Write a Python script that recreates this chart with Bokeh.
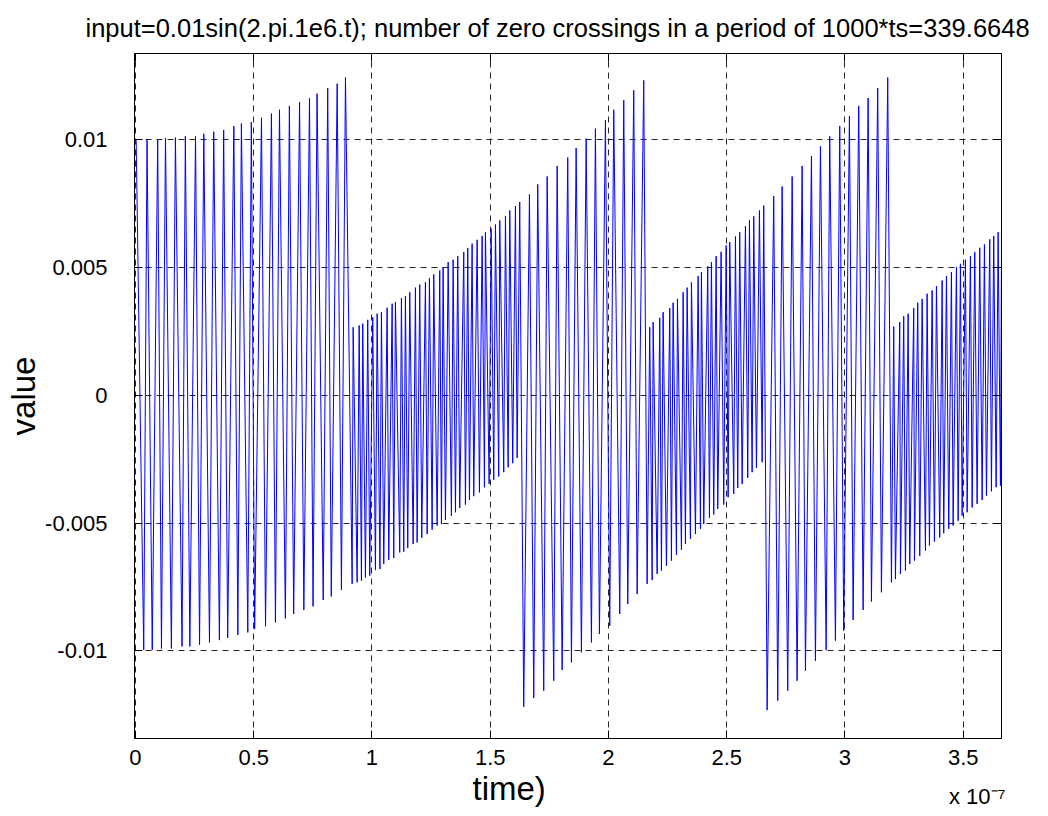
import numpy as np
from bokeh.plotting import figure
from bokeh.models import (Range1d, LinearAxis, FixedTicker, CustomJSTickFormatter,
                          Title, ColumnDataSource)
from bokeh.embed import file_html
from bokeh.resources import INLINE

# ---- data: peak samples (time in units of 1e-7 s) ----
t_upper = [
    # sparse stretch 1
    0.003, 0.049, 0.094, 0.127, 0.169, 0.211, 0.254, 0.289, 0.331, 0.373, 0.416, 0.448,
    0.490, 0.533, 0.575, 0.609, 0.651, 0.694, 0.736, 0.768, 0.813, 0.853, 0.888,
    # dense stretch 1
    0.9205, 0.9460, 0.9611, 0.9822, 1.0034, 1.0220, 1.0402, 1.0643, 1.0854, 1.0994, 1.1247,
    1.1416, 1.1598, 1.1839, 1.2021, 1.2262, 1.2431, 1.2613, 1.2867, 1.3010, 1.3222, 1.3433,
    1.3628, 1.3882, 1.4051, 1.4236, 1.4448, 1.4659, 1.4799, 1.5040, 1.5222, 1.5404, 1.5645,
    1.5827, 1.6068, 1.6249,
    # sparse stretch 2
    1.6660, 1.7010, 1.7408, 1.7831, 1.8279, 1.8634, 1.9057, 1.9450, 1.9873, 2.0224, 2.0647,
    2.1070, 2.1492,
    # dense stretch 2
    2.1746, 2.1890, 2.2169, 2.2312, 2.2592, 2.2735, 2.2917, 2.3158, 2.3327, 2.3509, 2.3792,
    2.3932, 2.4199, 2.4355, 2.4554, 2.4765, 2.4977, 2.5129, 2.5370, 2.5551, 2.5793, 2.5962,
    2.6144, 2.6385, 2.6566,
    # sparse stretch 3
    2.6989, 2.7344, 2.7767, 2.8190, 2.8584, 2.8964, 2.9357, 2.9780, 3.0190, 3.0583, 3.0981,
    3.1386, 3.1809,
    # dense stretch 3
    3.2063, 3.2317, 3.2486, 3.2672, 3.2909, 3.3078, 3.3264, 3.3475, 3.3687, 3.3869, 3.4110,
    3.4292, 3.4503, 3.4715, 3.4884, 3.5095, 3.5307, 3.5489, 3.5700, 3.5898, 3.6123, 3.6292,
    3.6477, 3.6620,
]
v_upper = [
    0.01000, 0.01000, 0.01000, 0.01006, 0.01008, 0.01013, 0.01013, 0.01023, 0.01031, 0.01038,
    0.01053, 0.01063, 0.01069, 0.01086, 0.01102, 0.01117, 0.01132, 0.01147, 0.01162, 0.01180,
    0.01202, 0.01219, 0.01243,
    0.00266, 0.00273, 0.00280, 0.00295, 0.00305, 0.00319, 0.00325, 0.00342, 0.00358, 0.00364,
    0.00380, 0.00388, 0.00403, 0.00421, 0.00433, 0.00442, 0.00458, 0.00473, 0.00488, 0.00501,
    0.00521, 0.00530, 0.00544, 0.00560, 0.00576, 0.00593, 0.00608, 0.00623, 0.00638, 0.00652,
    0.00668, 0.00684, 0.00700, 0.00723, 0.00740, 0.00756,
    0.00786, 0.00825, 0.00856, 0.00897, 0.00930, 0.00967, 0.01004, 0.01043, 0.01076, 0.01117,
    0.01154, 0.01193, 0.01232,
    0.00266, 0.00286, 0.00303, 0.00325, 0.00341, 0.00362, 0.00377, 0.00403, 0.00421, 0.00442,
    0.00466, 0.00482, 0.00504, 0.00521, 0.00544, 0.00561, 0.00586, 0.00599, 0.00621, 0.00638,
    0.00662, 0.00684, 0.00700, 0.00723, 0.00742,
    0.00779, 0.00817, 0.00856, 0.00897, 0.00936, 0.00974, 0.01013, 0.01053, 0.01092, 0.01132,
    0.01163, 0.01202, 0.01243,
    0.00269, 0.00286, 0.00309, 0.00319, 0.00341, 0.00362, 0.00377, 0.00397, 0.00410, 0.00427,
    0.00449, 0.00466, 0.00482, 0.00501, 0.00514, 0.00530, 0.00544, 0.00560, 0.00577, 0.00590,
    0.00610, 0.00623, 0.00638, 0.00540,
]
t_lower = [
    0.035, 0.071, 0.110, 0.152, 0.197, 0.230, 0.271, 0.313, 0.355, 0.390, 0.433, 0.475,
    0.504, 0.550, 0.592, 0.634, 0.669, 0.712, 0.751, 0.794, 0.828, 0.871,
    0.9163, 0.9374, 0.9556, 0.9725, 0.9907, 1.0148, 1.0338, 1.0499, 1.0710, 1.0922, 1.1175,
    1.1345, 1.1514, 1.1742, 1.1911, 1.2106, 1.2334, 1.2545, 1.2757, 1.2939, 1.3108, 1.3361,
    1.3531, 1.3712, 1.3953, 1.4123, 1.4304, 1.4545, 1.4757, 1.4955, 1.5150, 1.5361, 1.5573,
    1.5759, 1.5953, 1.6139,
    1.6418, 1.6841, 1.7264, 1.7687, 1.8042, 1.8435, 1.8858, 1.9281, 1.9619, 2.0055, 2.0478,
    2.0816, 2.1213,
    2.1636, 2.1848, 2.2059, 2.2241, 2.2452, 2.2664, 2.2875, 2.3087, 2.3256, 2.3467, 2.3679,
    2.3890, 2.4030, 2.4271, 2.4452, 2.4621, 2.4875, 2.5061, 2.5298, 2.5467, 2.5653, 2.5890,
    2.6076, 2.6258, 2.6499,
    2.6710, 2.7158, 2.7581, 2.7978, 2.8330, 2.8752, 2.9205, 2.9598, 2.9949, 3.0346, 3.0769,
    3.1120, 3.1543,
    3.1966, 3.2135, 3.2347, 3.2558, 3.2740, 3.2939, 3.3163, 3.3404, 3.3573, 3.3784, 3.4008,
    3.4177, 3.4389, 3.4575, 3.4786, 3.4955, 3.5167, 3.5378, 3.5589, 3.5801, 3.5983, 3.6194,
    3.6393, 3.6575,
]
v_lower = [
    -0.00996, -0.00996, -0.00991, -0.00991, -0.00983, -0.00983, -0.00976, -0.00967, -0.00958,
    -0.00950, -0.00938, -0.00928, -0.00915, -0.00904, -0.00889, -0.00873, -0.00856, -0.00840,
    -0.00826, -0.00801, -0.00787, -0.00762,
    -0.00738, -0.00732, -0.00726, -0.00713, -0.00706, -0.00684, -0.00680, -0.00660, -0.00644,
    -0.00637, -0.00615, -0.00612, -0.00598, -0.00582, -0.00576, -0.00558, -0.00543, -0.00526,
    -0.00510, -0.00504, -0.00488, -0.00472, -0.00458, -0.00441, -0.00428, -0.00410, -0.00395,
    -0.00380, -0.00360, -0.00347, -0.00331, -0.00318, -0.00301, -0.00282, -0.00266, -0.00245,
    -0.01219, -0.01185, -0.01156, -0.01117, -0.01075, -0.01045, -0.01006, -0.00967, -0.00934,
    -0.00902, -0.00856, -0.00817, -0.00778,
    -0.00738, -0.00723, -0.00699, -0.00686, -0.00667, -0.00647, -0.00624, -0.00605, -0.00582,
    -0.00562, -0.00543, -0.00523, -0.00504, -0.00480, -0.00467, -0.00445, -0.00428, -0.00399,
    -0.00386, -0.00363, -0.00347, -0.00323, -0.00301, -0.00284, -0.00262,
    -0.01232, -0.01195, -0.01156, -0.01117, -0.01078, -0.01039, -0.00997, -0.00960, -0.00921,
    -0.00879, -0.00840, -0.00807, -0.00771,
    -0.00732, -0.00719, -0.00699, -0.00686, -0.00660, -0.00647, -0.00628, -0.00608, -0.00588,
    -0.00573, -0.00556, -0.00540, -0.00523, -0.00510, -0.00491, -0.00471, -0.00458, -0.00439,
    -0.00425, -0.00410, -0.00393, -0.00376, -0.00360, -0.00354,
]

x_ticks = [0, 0.5, 1, 1.5, 2, 2.5, 3, 3.5]
y_ticks = [-0.01, -0.005, 0, 0.005, 0.01]

title_text = "input=0.01sin(2.pi.1e6.t); number of zero crossings in a period of 1000*ts=339.6648"
x_label = "time)"
x_exponent = "x 10\u207b\u2077"
y_label = "value"

# ---- merge the upper and lower peaks into one zig-zag trace ----
t_all = np.array(t_upper + t_lower)
v_all = np.array(v_upper + v_lower)
order = np.argsort(t_all, kind="stable")
src = ColumnDataSource(dict(t=t_all[order], v=v_all[order]))

FONT = "Liberation Sans"

p = figure(frame_width=867, frame_height=685, output_backend="svg", toolbar_location=None,
           x_range=Range1d(-0.004, 3.662), y_range=Range1d(-0.01343, 0.01337),
           min_border_left=134, min_border_right=40, min_border_top=53, min_border_bottom=76,
           x_axis_location=None, y_axis_location=None)
p.background_fill_color = "white"
p.border_fill_color = "white"
p.outline_line_color = "black"
p.outline_line_width = 1

p.title.text = title_text
p.title.align = "left"
p.title.offset = -49
p.title.vertical_align = "top"
p.title.standoff = 20
p.title.text_font = FONT
p.title.text_font_size = "25.5px"
p.title.text_font_style = "normal"
p.title.text_color = "black"

fmt = CustomJSTickFormatter(code="return tick.toString();")
blank = CustomJSTickFormatter(code="return '';")


def style_axis(ax, labels=True):
    ax.axis_line_color = "black"
    ax.major_tick_line_color = "black"
    ax.major_tick_in = 8
    ax.major_tick_out = 0
    ax.minor_tick_line_color = None
    ax.major_label_text_font = FONT
    ax.major_label_text_color = "black"
    if labels:
        ax.major_label_text_font_size = "22px"
    else:
        ax.major_label_text_font_size = "0px"
        ax.major_label_standoff = 0


xb = LinearAxis(ticker=FixedTicker(ticks=x_ticks), formatter=fmt)
style_axis(xb)
xb.major_label_standoff = 11
p.add_layout(xb, "below")

yl = LinearAxis(ticker=FixedTicker(ticks=y_ticks), formatter=fmt)
style_axis(yl)
yl.major_label_standoff = 27
yl.axis_label = y_label
yl.axis_label_text_font = FONT
yl.axis_label_text_font_size = "33px"
yl.axis_label_text_font_style = "normal"
yl.axis_label_text_color = "black"
yl.axis_label_standoff = 0
p.add_layout(yl, "left")

xt = LinearAxis(ticker=FixedTicker(ticks=x_ticks), formatter=blank)
style_axis(xt, labels=False)
p.add_layout(xt, "above")

yr = LinearAxis(ticker=FixedTicker(ticks=y_ticks), formatter=blank)
style_axis(yr, labels=False)
p.add_layout(yr, "right")

# dashed grid
p.xgrid.ticker = FixedTicker(ticks=x_ticks)
p.ygrid.ticker = FixedTicker(ticks=y_ticks)
for g in (p.xgrid, p.ygrid):
    g.grid_line_color = "black"
    g.grid_line_dash = "6 5"
    g.grid_line_width = 1
    g.grid_line_alpha = 0.85

p.line("t", "v", source=src, line_color="#0000ff", line_width=1)

# x-axis label and the exponent, as titles below the axis
t_time = Title(text=x_label, align="left", offset=338, text_font=FONT, text_font_size="33px",
               text_font_style="normal", text_color="black", vertical_align="bottom",
               standoff=1)
# a second, blank line gives this title enough height to be lifted level with "time)"
t_exp = Title(text=x_exponent + "\n\u00a0", align="right", offset=-4, text_font=FONT,
              text_font_size="22px", text_font_style="normal", text_color="black",
              vertical_align="top", standoff=-48)
p.add_layout(t_time, "below")
p.add_layout(t_exp, "below")

open("out.html", "w").write(file_html(p, INLINE))
